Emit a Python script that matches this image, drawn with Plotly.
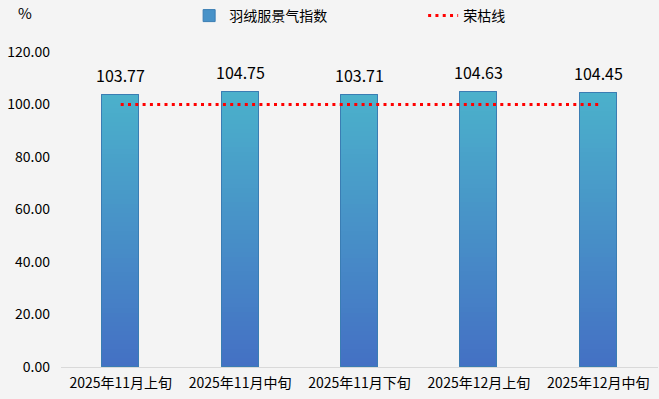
import plotly.graph_objects as go

categories = ["2025年11月上旬", "2025年11月中旬", "2025年11月下旬", "2025年12月上旬", "2025年12月中旬"]
index_values = [103.77, 104.75, 103.71, 104.63, 104.45]
line_values = [100, 100, 100, 100, 100]
series_names = ["羽绒服景气指数", "荣枯线"]
y_ticks = [0, 20, 40, 60, 80, 100, 120]

FONT = "Noto Sans CJK SC, Microsoft YaHei, sans-serif"
top_rgb = (0x4B, 0xB1, 0xCB)
bot_rgb = (0x44, 0x70, 0xC4)
N = 60
BW = 0.31
EDGE = "#3A7DB3"

fig = go.Figure()

# base bar (legend entry)
fig.add_trace(go.Bar(
    x=categories, y=index_values, width=BW, name=series_names[0],
    marker=dict(color="#4892C8", line=dict(color=EDGE, width=1)),
    hoverinfo="skip",
))

# gradient segments
for k in range(N):
    t = (k + 0.5) / N
    c = tuple(round(bot_rgb[i] + (top_rgb[i] - bot_rgb[i]) * t) for i in range(3))
    fig.add_trace(go.Bar(
        x=categories,
        y=[v / N for v in index_values],
        base=[v * k / N for v in index_values],
        width=BW,
        marker=dict(color="rgb(%d,%d,%d)" % c, line=dict(width=0)),
        showlegend=False, hoverinfo="skip",
    ))

# outline
fig.add_trace(go.Bar(
    x=categories, y=index_values, width=BW, showlegend=False,
    marker=dict(color="rgba(0,0,0,0)", line=dict(color=EDGE, width=1)),
))

fig.add_trace(go.Scatter(
    x=categories, y=line_values, mode="lines", name=series_names[1],
    line=dict(color="#FF0000", width=3, dash="3px,4.3px"),
))

annotations = [dict(x=c, y=v, text="%.2f" % v, xref="x", yref="y",
                    yanchor="bottom", xanchor="center", yshift=6, showarrow=False,
                    font=dict(size=16, family=FONT, color="#000000"))
               for c, v in zip(categories, index_values)]
annotations.append(dict(text="%", xref="paper", yref="paper", x=-0.06, y=1.125,
                        xanchor="center", yanchor="middle", showarrow=False,
                        font=dict(size=15, family=FONT)))

fig.update_layout(
    width=659, height=399,
    paper_bgcolor="#F4F4F4", plot_bgcolor="#F4F4F4",
    margin=dict(l=61, r=1, t=52, b=32),
    barmode="overlay", bargap=0,
    font=dict(family=FONT, size=14, color="#000000"),
    showlegend=True,
    legend=dict(orientation="h", xref="container", yref="container",
                x=0.287, y=1.0, xanchor="left", yanchor="top",
                entrywidth=189, entrywidthmode="pixels",
                font=dict(size=14, family=FONT), bgcolor="rgba(0,0,0,0)",
                itemwidth=30),
    annotations=annotations,
)
fig.update_yaxes(range=[0, 120], tickvals=y_ticks, tickformat=".2f",
                 showgrid=False, zeroline=False, showline=False,
                 ticks="", ticklabelstandoff=10,
                 tickfont=dict(size=14, family=FONT))
fig.update_xaxes(showgrid=False, showline=True, linecolor="#D9D9D9", linewidth=1,
                 ticks="", ticklabelstandoff=3, tickfont=dict(size=14, family=FONT))

fig.write_html("out.html", config={"displayModeBar": False},
               post_script="document.body.style.margin='0px';document.body.style.background='#F4F4F4';")
